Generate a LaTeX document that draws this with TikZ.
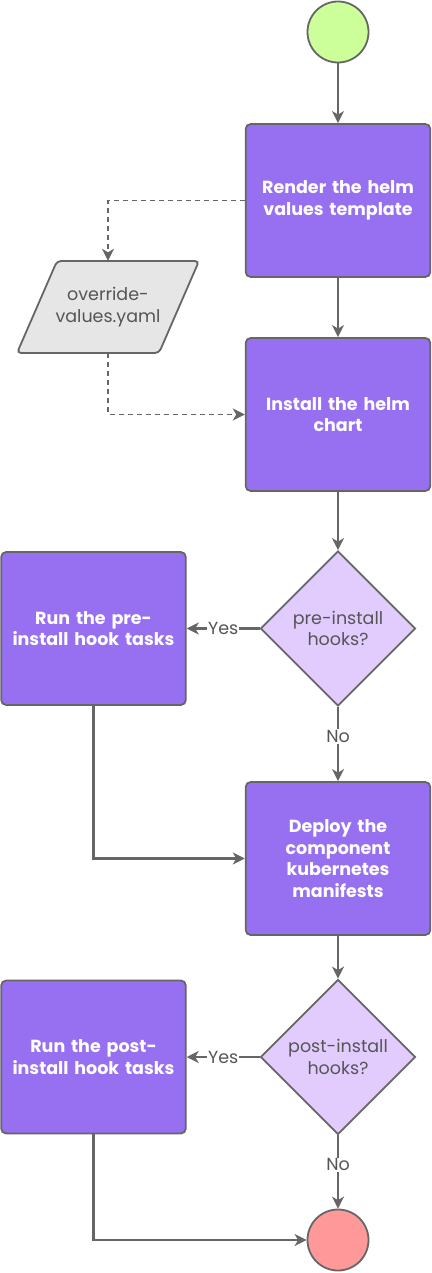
\documentclass[tikz,border=0pt]{standalone}
\usepackage{fontspec}
\setmainfont{Poppins}
\usetikzlibrary{arrows.meta,shapes.geometric}
\definecolor{edgec}{HTML}{666666}
\definecolor{boxc}{HTML}{9670F0}
\definecolor{decc}{HTML}{E2CCFE}
\definecolor{startc}{HTML}{CCFF99}
\definecolor{endc}{HTML}{FF9999}
\definecolor{parc}{HTML}{E6E6E6}
\definecolor{txtc}{HTML}{555555}
\tikzset{
  term/.style={circle,draw=edgec,line width=1.8pt,minimum size=61pt,inner sep=0pt},
  stepbox/.style={draw=edgec,line width=1.8pt,fill=boxc,rounded corners=5pt,minimum width=184pt,minimum height=153pt,text width=178pt,align=center,text=white,font=\fontsize{17.5}{21.5}\selectfont\bfseries},
  decision/.style={diamond,draw=edgec,line width=1.8pt,fill=decc,minimum width=152pt,minimum height=151pt,inner sep=0pt,text width=120pt,align=center,text=txtc,font=\fontsize{17.5}{21.5}\selectfont},
  datatext/.style={minimum width=120pt,minimum height=92pt,inner sep=0pt,text width=120pt,align=center,text=txtc,font=\fontsize{17.5}{21.5}\selectfont},
  datashape/.style={draw=edgec,line width=1.8pt,fill=parc,rounded corners=4pt},
  flow/.style={draw=edgec,line width=2.2pt,-{Stealth[length=12pt,width=12pt,inset=3.5pt]}},
  dflow/.style={flow,line width=1.8pt,dash pattern=on 5pt off 4pt},
  lab/.style={fill=white,text=txtc,inner sep=1pt,font=\fontsize{17.5}{19}\selectfont}
}
\begin{document}
\begin{tikzpicture}[x=1pt,y=-1pt]
\useasboundingbox (0,0) rectangle (431,1273);
\node[term,fill=startc] (start) at (338,32) {};
\node[stepbox] (render) at (338,200.5) {Render the helm\\values template};
\draw[datashape] (17,353) -- (57,261) -- (199,261) -- (159,353) -- cycle;
\node[datatext] (vals) at (108,307) {override-\\values.yaml};
\node[stepbox] (install) at (338,414.5) {Install the helm\\chart};
\node[decision] (d1) at (338,628.5) {pre-install\\hooks?};
\node[stepbox] (pre) at (93.5,628.5) {Run the pre-\\install hook tasks};
\node[stepbox] (deploy) at (338,858.5) {Deploy the\\component\\kubernetes\\manifests};
\node[decision] (d2) at (338,1057) {post-install\\hooks?};
\node[stepbox] (post) at (93.5,1057) {Run the post-\\install hook tasks};
\node[term,fill=endc] (end) at (338,1240) {};

\draw[flow] (start) -- (render);
\draw[flow] (render) -- (install);
\draw[dflow] (render.west) -| (vals.north);
\draw[dflow] (vals.south) |- (install.west);
\draw[flow] (install) -- (d1);
\draw[flow] (d1.west) -- node[lab] {Yes} (pre.east);
\draw[flow] (d1.south) -- node[lab,pos=0.4] {No} (deploy.north);
\draw[flow] (pre.south) |- (deploy.west);
\draw[flow] (deploy) -- (d2);
\draw[flow] (d2.west) -- node[lab] {Yes} (post.east);
\draw[flow] (d2.south) -- node[lab,pos=0.4] {No} (end.north);
\draw[flow] (post.south) |- (end.west);
\end{tikzpicture}
\end{document}
